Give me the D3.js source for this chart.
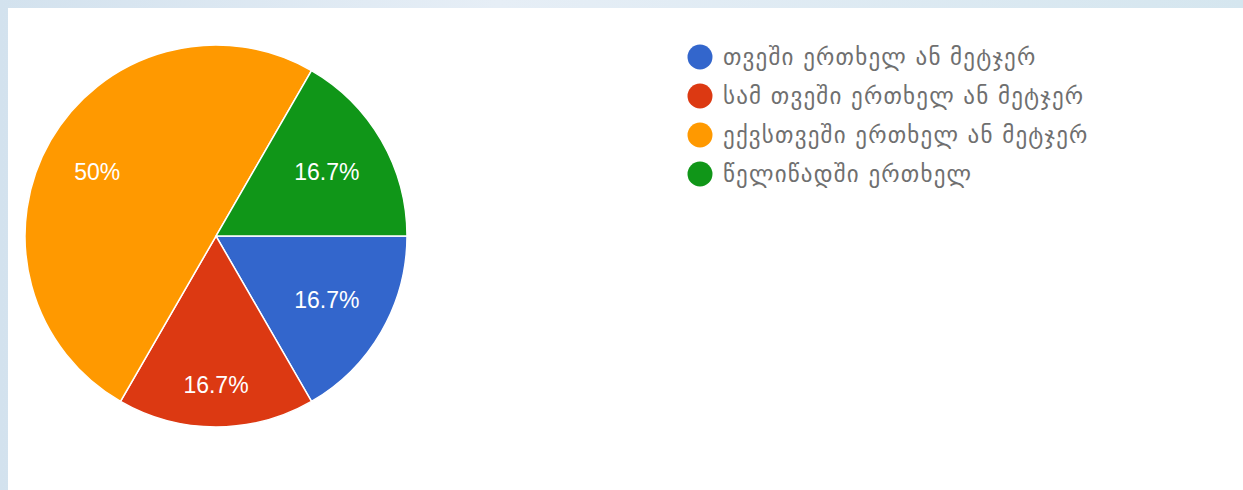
<!DOCTYPE html>
<meta charset="utf-8">
<style>
html, body {
  margin: 0;
  width: 1243px;
  height: 490px;
}
.bg {
  position: absolute;
  left: 0;
  top: 0;
  width: 1243px;
  height: 490px;
  background: linear-gradient(90deg, #d3e2ee 0%, #e6eef6 40%, #d5e6ef 100%);
}
.panel {
  position: absolute;
  left: 8px;
  top: 8px;
  width: 1235px;
  height: 482px;
  background: #fff;
}
.slice {
  stroke: #fff;
  stroke-width: 1.5px;
}
.pct {
  fill: #fff;
  font-family: "Liberation Sans", Arial, sans-serif;
  font-size: 23px;
}
.legend text {
  fill: #6f6f6f;
  font-family: "DejaVu Sans", sans-serif;
  font-size: 23px;
  letter-spacing: 1.2px;
}
</style>
<div class="bg"></div>
<div class="panel"></div>
<svg width="1243" height="490" style="position:absolute;left:0;top:0"></svg>
<script src="https://cdn.jsdelivr.net/npm/d3@7"></script>
<script>

var labels = ["თვეში ერთხელ ან მეტჯერ", "სამ თვეში ერთხელ ან მეტჯერ", "ექვსთვეში ერთხელ ან მეტჯერ", "წელიწადში ერთხელ"];
var counts = [1, 1, 3, 1];
var colors = ["#3366cc", "#dc3912", "#ff9900", "#109618"];

var svg = d3.select("svg");

var cx = 216, cy = 236, radius = 191;

var pie = d3.pie()
    .sort(null)
    .startAngle(Math.PI / 2)
    .endAngle(Math.PI / 2 + 2 * Math.PI);

var arc = d3.arc().innerRadius(0).outerRadius(radius);
var labelArc = d3.arc().innerRadius(128).outerRadius(128);
var lowArc = d3.arc().innerRadius(149).outerRadius(149);

var total = d3.sum(counts);
var arcs = pie(counts);

var g = svg.append("g").attr("transform", "translate(" + cx + "," + cy + ")");

g.selectAll("path")
    .data(arcs)
    .enter().append("path")
    .attr("class", "slice")
    .attr("d", arc)
    .attr("fill", function(d, i) { return colors[i]; });

g.selectAll("text")
    .data(arcs)
    .enter().append("text")
    .attr("class", "pct")
    .attr("text-anchor", "middle")
    .attr("dy", "0.36em")
    .attr("transform", function(d, i) {
      // the bottom slice label sits further out, as in the original
      var c = (i === 1 ? lowArc : labelArc).centroid(d);
      if (i === 2) c[0] -= 8;
      return "translate(" + c + ")";
    })
    .text(function(d) {
      var p = d.value / total * 100;
      return (Math.round(p * 10) / 10) + "%";
    });

var y = d3.scalePoint().domain(labels).range([57, 174]);

var leg = svg.append("g").attr("class", "legend")
  .selectAll("g")
    .data(labels)
    .enter().append("g")
    .attr("transform", function(d) { return "translate(700," + y(d) + ")"; });

leg.append("circle")
    .attr("r", 12.5)
    .attr("fill", function(d, i) { return colors[i]; });

leg.append("text")
    .attr("x", 23)
    .attr("dy", "0.35em")
    .text(function(d) { return d; });

</script>
